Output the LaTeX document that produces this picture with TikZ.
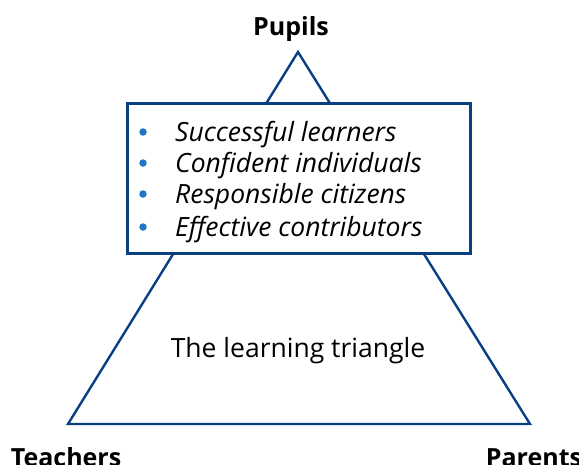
\documentclass[tikz,border=0pt]{standalone}
\usepackage{fontspec}
\setmainfont{Open Sans}
\definecolor{lineblue}{HTML}{0A3F82}
\definecolor{dotblue}{HTML}{1F77C4}
\begin{document}
\begin{tikzpicture}[x=1pt,y=-1pt,
  edge/.style={draw=lineblue,line width=2.4pt,line join=miter},
  lbl/.style={font=\fontsize{25}{28}\selectfont\bfseries,inner sep=0pt,anchor=base},
  item/.style={font=\fontsize{26.5}{28}\selectfont\itshape,inner sep=0pt,anchor=base west},
  dot/.style={circle,fill=dotblue,inner sep=0pt,minimum size=7.5pt}]
\useasboundingbox (0,0) rectangle (579,464);
\coordinate (top) at (298,52);
\coordinate (bl) at (68,424);
\coordinate (br) at (530,424);
\draw[edge] (top) -- (bl) -- (br) -- cycle;
\node[edge,fill=white,minimum width=343pt,minimum height=150pt,inner sep=0pt] (box) at (299,178.5) {};
\node[lbl] (pupils) at (291,35) {Pupils};
\node[lbl] (teachers) at (66,466) {Teachers};
\node[lbl] (parents) at (534,466) {Parents};
\node[font=\fontsize{26.5}{28}\selectfont,inner sep=0pt,anchor=base] (title) at (298,357) {The learning triangle};
\foreach \t/\y [count=\i] in {Successful learners/141,Confident individuals/172,Responsible citizens/203,Effective contributors/236}{
  \node[dot] (d\i) at (143,\y-9) {};
  \node[item] (t\i) at (175,\y) {\t};
}
\end{tikzpicture}
\end{document}
